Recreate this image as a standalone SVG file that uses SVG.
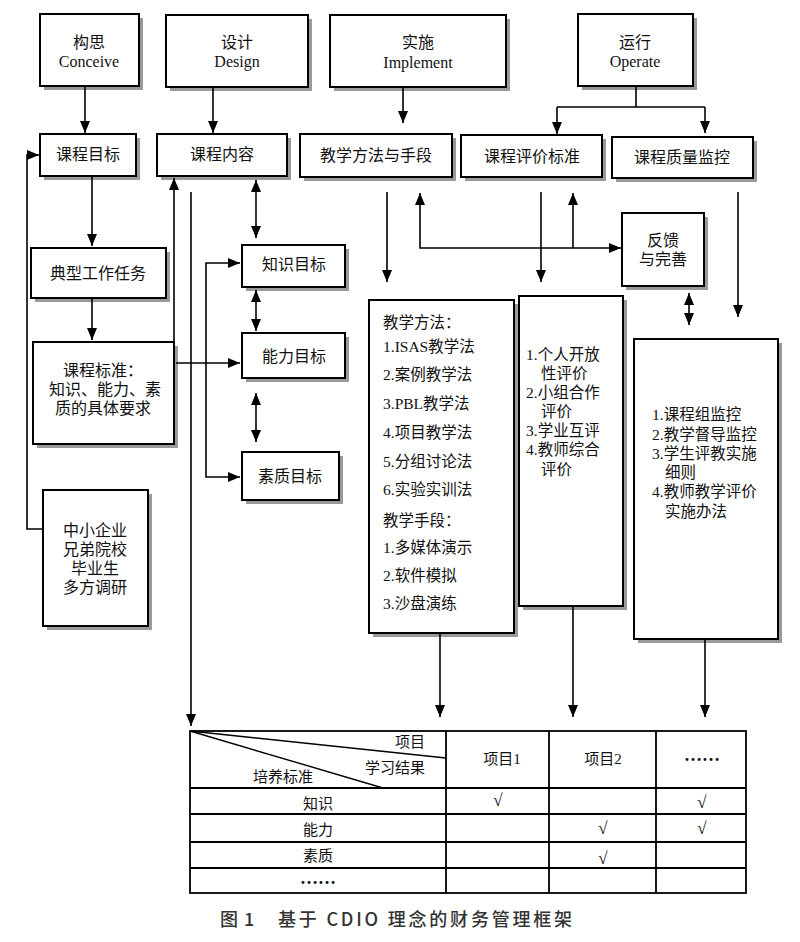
<svg xmlns="http://www.w3.org/2000/svg" width="800" height="942" viewBox="0 0 800 942">
<defs>
<marker id="ah" markerUnits="userSpaceOnUse" markerWidth="12" markerHeight="10" refX="12" refY="5" orient="auto-start-reverse" viewBox="0 0 12 10">
<path d="M0,0 L12,5 L0,10 z" fill="#000"/>
</marker>
<style>
.sh{fill:#9a9a9a}
.bx{fill:#fff;stroke:#000;stroke-width:2}
.t{font-family:"Liberation Serif","Noto Sans CJK SC",serif;font-size:16px;text-anchor:middle;fill:#111}
.l{font-family:"Liberation Serif","Noto Sans CJK SC",serif;font-size:15.5px;fill:#111}
.tb{font-family:"Liberation Serif","Noto Sans CJK SC",serif;font-size:15px;text-anchor:middle;fill:#111}
.cap{font-family:"Noto Sans CJK SC","Liberation Sans",sans-serif;font-size:18px;font-weight:500;fill:#333}
.c path{stroke:#000;stroke-width:1.6;fill:none}
.a{marker-end:url(#ah)}
.b{marker-start:url(#ah);marker-end:url(#ah)}
.tl{stroke:#000;stroke-width:1.8;fill:none}
</style>
</defs>
<rect width="800" height="942" fill="#fff"/>

<g id="conceive"><rect class="sh" x="44" y="18" width="99" height="72"/><rect class="bx" x="40" y="14" width="99" height="72"/><text class="t" x="89" y="48">构思</text><text class="t" x="89" y="67">Conceive</text></g>
<g id="design"><rect class="sh" x="170" y="19" width="142" height="72"/><rect class="bx" x="166" y="15" width="142" height="72"/><text class="t" x="237" y="48">设计</text><text class="t" x="237" y="67">Design</text></g>
<g id="implement"><rect class="sh" x="334" y="19" width="176" height="72"/><rect class="bx" x="330" y="15" width="176" height="72"/><text class="t" x="418" y="48">实施</text><text class="t" x="418" y="68">Implement</text></g>
<g id="operate"><rect class="sh" x="582" y="18" width="115" height="72"/><rect class="bx" x="578" y="14" width="115" height="72"/><text class="t" x="635" y="48">运行</text><text class="t" x="635" y="67">Operate</text></g>

<g id="goal"><rect class="sh" x="44" y="138" width="96" height="42"/><rect class="bx" x="40" y="134" width="96" height="42"/><text class="t" x="88" y="160">课程目标</text></g>
<g id="content"><rect class="sh" x="161" y="138" width="130" height="42"/><rect class="bx" x="157" y="134" width="130" height="42"/><text class="t" x="222" y="160">课程内容</text></g>
<g id="method-title"><rect class="sh" x="304" y="138" width="152" height="43"/><rect class="bx" x="300" y="134" width="152" height="43"/><text class="t" x="376" y="161">教学方法与手段</text></g>
<g id="eval-title"><rect class="sh" x="465" y="139" width="141" height="42"/><rect class="bx" x="461" y="135" width="141" height="42"/><text class="t" x="532" y="162">课程评价标准</text></g>
<g id="quality-title"><rect class="sh" x="616" y="141" width="141" height="41"/><rect class="bx" x="612" y="137" width="141" height="41"/><text class="t" x="682" y="163">课程质量监控</text></g>

<g id="task"><rect class="sh" x="35" y="252" width="135" height="50"/><rect class="bx" x="31" y="248" width="135" height="50"/><text class="t" x="98" y="279">典型工作任务</text></g>
<g id="standard"><rect class="sh" x="37" y="346" width="141" height="102"/><rect class="bx" x="33" y="342" width="141" height="102"/><text class="t" x="103" y="376">课程标准：</text><text class="t" x="105" y="395">知识、能力、素</text><text class="t" x="103" y="414">质的具体要求</text></g>
<g id="survey"><rect class="sh" x="47" y="494" width="105" height="136"/><rect class="bx" x="43" y="490" width="105" height="136"/><text class="t" x="95" y="536">中小企业</text><text class="t" x="95" y="555">兄弟院校</text><text class="t" x="95" y="574">毕业生</text><text class="t" x="95" y="593">多方调研</text></g>

<g id="knowledge-goal"><rect class="sh" x="246" y="249" width="103" height="42"/><rect class="bx" x="242" y="245" width="103" height="42"/><text class="t" x="294" y="270">知识目标</text></g>
<g id="ability-goal"><rect class="sh" x="246" y="337" width="103" height="45"/><rect class="bx" x="242" y="333" width="103" height="45"/><text class="t" x="294" y="362">能力目标</text></g>
<g id="quality-goal"><rect class="sh" x="246" y="456" width="97" height="48"/><rect class="bx" x="242" y="452" width="97" height="48"/><text class="t" x="290" y="482">素质目标</text></g>

<g id="feedback"><rect class="sh" x="626" y="217" width="82" height="73"/><rect class="bx" x="622" y="213" width="82" height="73"/><text class="t" x="663" y="246">反馈</text><text class="t" x="663" y="265">与完善</text></g>

<g id="methods"><rect class="sh" x="373" y="304" width="145" height="333"/><rect class="bx" x="369" y="300" width="145" height="333"/>
<text class="l" x="383" y="327.5">教学方法：</text>
<text class="l" x="383" y="351.5">1.ISAS教学法</text>
<text class="l" x="383" y="379.5">2.案例教学法</text>
<text class="l" x="383" y="408.5">3.PBL教学法</text>
<text class="l" x="383" y="437.5">4.项目教学法</text>
<text class="l" x="383" y="466.5">5.分组讨论法</text>
<text class="l" x="383" y="494.5">6.实验实训法</text>
<text class="l" x="383" y="525.5">教学手段：</text>
<text class="l" x="383" y="552.5">1.多媒体演示</text>
<text class="l" x="383" y="580.5">2.软件模拟</text>
<text class="l" x="383" y="608.5">3.沙盘演练</text>
</g>

<g id="evaluation"><rect class="sh" x="523" y="300" width="104" height="310"/><rect class="bx" x="519" y="296" width="104" height="310"/>
<text class="l" x="526" y="360">1.个人开放</text>
<text class="l" x="541" y="379">性评价</text>
<text class="l" x="526" y="398">2.小组合作</text>
<text class="l" x="541" y="417">评价</text>
<text class="l" x="526" y="436">3.学业互评</text>
<text class="l" x="526" y="455">4.教师综合</text>
<text class="l" x="541" y="475">评价</text>
</g>

<g id="monitoring"><rect class="sh" x="638" y="343" width="144" height="300"/><rect class="bx" x="634" y="339" width="144" height="300"/>
<text class="l" x="652" y="420">1.课程组监控</text>
<text class="l" x="652" y="440">2.教学督导监控</text>
<text class="l" x="652" y="459">3.学生评教实施</text>
<text class="l" x="665" y="478">细则</text>
<text class="l" x="652" y="497">4.教师教学评价</text>
<text class="l" x="665" y="517">实施办法</text>
</g>

<g id="connectors" class="c">
<path class="a" d="M85,86 V133"/>
<path class="a" d="M213,87 V133"/>
<path class="a" d="M403,87 V123"/>
<path d="M636,86 V107 M557,107 H705"/>
<path class="a" d="M557,107 V134"/>
<path class="a" d="M705,107 V133"/>
<path class="a" d="M43,529 H27 V155 H39"/>
<path class="a" d="M92,176 V246"/>
<path class="a" d="M92,298 V340"/>
<path class="a" d="M174,342 V178"/>
<path class="a" d="M191,192 V726"/>
<path class="a" d="M176,363 H240"/>
<path class="b" d="M240,263 H206 V477 H240"/>
<path class="b" d="M256,180 V238"/>
<path class="b" d="M256,290 V331"/>
<path class="b" d="M256,393 V442"/>
<path class="a" d="M387,192 V282"/>
<path class="b" d="M420,193 V248 H621"/>
<path class="a" d="M573,248 V193"/>
<path class="a" d="M541,192 V282"/>
<path class="a" d="M738,192 V317"/>
<path class="b" d="M689,293 V325"/>
<path class="a" d="M440,633 V717"/>
<path class="a" d="M573,606 V717"/>
<path class="a" d="M705,639 V717"/>
</g>

<g id="table">
<rect class="tl" x="190" y="731" width="556" height="162"/>
<path class="tl" d="M190,788 H746 M190,814 H746 M190,842 H746 M190,868 H746 M446,731 V893 M549,731 V893 M656,731 V893"/>
<path stroke="#000" stroke-width="1.4" fill="none" d="M190,731 L446,758 M190,731 L383,788"/>
<text class="tb" x="410" y="747">项目</text>
<text class="tb" x="395" y="773">学习结果</text>
<text class="tb" x="283" y="782">培养标准</text>
<text class="tb" x="502" y="764">项目1</text>
<text class="tb" x="603" y="764">项目2</text>
<text class="tb" x="702" y="761" style="font-size:18px;font-weight:bold">……</text>
<text class="tb" x="318" y="809">知识</text>
<text class="tb" x="318" y="835">能力</text>
<text class="tb" x="318" y="861">素质</text>
<text class="tb" x="318" y="884" style="font-size:18px;font-weight:bold">……</text>
<text class="tb" x="498" y="806" style="font-size:17px">√</text>
<text class="tb" x="702" y="808" style="font-size:17px">√</text>
<text class="tb" x="603" y="834" style="font-size:17px">√</text>
<text class="tb" x="702" y="834" style="font-size:17px">√</text>
<text class="tb" x="603" y="864" style="font-size:17px">√</text>
</g>

<g id="caption">
<text class="cap" x="220" y="926">图</text>
<text class="cap" x="244" y="926">1</text>
<text class="cap" x="278" y="926" textLength="294" lengthAdjust="spacing">基于 CDIO 理念的财务管理框架</text>
</g>
</svg>
